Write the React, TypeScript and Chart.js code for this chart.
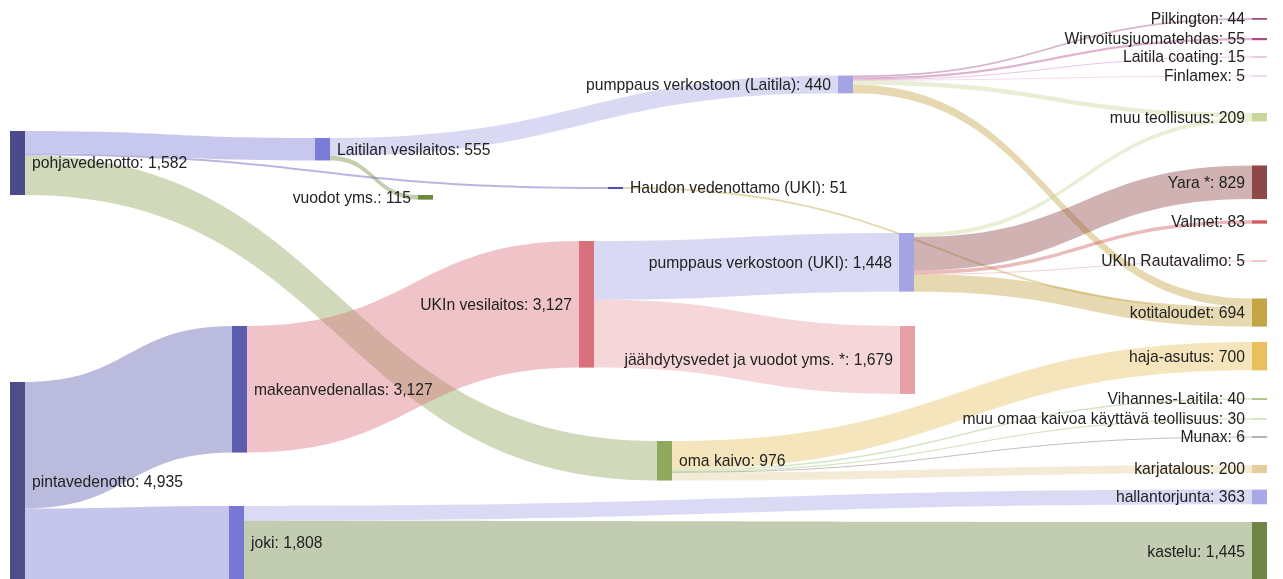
import React, { useEffect, useRef } from 'react';
import { Chart, registerables } from 'chart.js';

Chart.register(...registerables);

// ---------- DATA ----------
const nodeNames: string[] = [
  'pohjavedenotto',
  'pintavedenotto',
  'Laitilan vesilaitos',
  'Haudon vedenottamo (UKI)',
  'oma kaivo',
  'makeanvedenallas',
  'joki',
  'vuodot yms.',
  'pumppaus verkostoon (Laitila)',
  'UKIn vesilaitos',
  'pumppaus verkostoon (UKI)',
  'jäähdytysvedet ja vuodot yms. *',
  'Pilkington',
  'Wirvoitusjuomatehdas',
  'Laitila coating',
  'Finlamex',
  'muu teollisuus',
  'Yara *',
  'Valmet',
  'UKIn Rautavalimo',
  'kotitaloudet',
  'haja-asutus',
  'Vihannes-Laitila',
  'muu omaa kaivoa käyttävä teollisuus',
  'Munax',
  'karjatalous',
  'hallantorjunta',
  'kastelu',
];

const linkFrom: string[] = [
  'pohjavedenotto', 'pohjavedenotto', 'pohjavedenotto',
  'pintavedenotto', 'pintavedenotto',
  'Laitilan vesilaitos', 'Laitilan vesilaitos',
  'makeanvedenallas',
  'UKIn vesilaitos', 'UKIn vesilaitos',
  'pumppaus verkostoon (Laitila)', 'pumppaus verkostoon (Laitila)', 'pumppaus verkostoon (Laitila)',
  'pumppaus verkostoon (Laitila)', 'pumppaus verkostoon (Laitila)', 'pumppaus verkostoon (Laitila)',
  'Haudon vedenottamo (UKI)',
  'pumppaus verkostoon (UKI)', 'pumppaus verkostoon (UKI)', 'pumppaus verkostoon (UKI)',
  'pumppaus verkostoon (UKI)', 'pumppaus verkostoon (UKI)',
  'oma kaivo', 'oma kaivo', 'oma kaivo', 'oma kaivo', 'oma kaivo',
  'joki', 'joki',
];

const linkTo: string[] = [
  'Laitilan vesilaitos', 'Haudon vedenottamo (UKI)', 'oma kaivo',
  'makeanvedenallas', 'joki',
  'pumppaus verkostoon (Laitila)', 'vuodot yms.',
  'UKIn vesilaitos',
  'pumppaus verkostoon (UKI)', 'jäähdytysvedet ja vuodot yms. *',
  'Pilkington', 'Wirvoitusjuomatehdas', 'Laitila coating',
  'Finlamex', 'muu teollisuus', 'kotitaloudet',
  'kotitaloudet',
  'muu teollisuus', 'Yara *', 'Valmet',
  'UKIn Rautavalimo', 'kotitaloudet',
  'haja-asutus', 'Vihannes-Laitila', 'muu omaa kaivoa käyttävä teollisuus', 'Munax', 'karjatalous',
  'hallantorjunta', 'kastelu',
];

const linkValues: number[] = [
  555, 51, 976,
  3127, 1808,
  440, 115,
  3127,
  1448, 1679,
  44, 55, 15,
  5, 109, 212,
  51,
  100, 829, 83,
  5, 431,
  700, 40, 30, 6, 200,
  363, 1445,
];

// ---------- LAYOUT (positions in scale units) ----------
const nodeX: number[] = [
  10, 10, 315, 608, 657, 232, 229, 418, 838, 579, 899, 900,
  1252, 1252, 1252, 1252, 1252, 1252, 1252, 1252, 1252, 1252, 1252, 1252, 1252, 1252, 1252, 1252,
];
const nodeTop: number[] = [
  3235, 9434, 3408, 4618, 10892, 8051, 12497, 4816, 1865, 5952, 5755, 8051,
  445, 938, 1400, 1877, 2791, 4087, 5441, 6444, 7372, 8447, 9835, 10333, 10790, 11484, 12092, 12892,
];
const labelSide: string[] = [
  'r', 'r', 'r', 'r', 'r', 'r', 'r', 'l', 'l', 'l', 'l', 'l',
  'l', 'l', 'l', 'l', 'l', 'l', 'l', 'l', 'l', 'l', 'l', 'l', 'l', 'l', 'l', 'l',
];
const nodeColors: string[] = [
  '#4b4b8c', '#4d4d88', '#7b7bd8', '#5050b8', '#8fa85c', '#5c5cae', '#7878d4', '#6d8a3c',
  '#a4a4e4', '#d9707c', '#a4a4e4', '#e8a0a8',
  '#9c5288', '#b04a8a', '#e2a6d6', '#ebc0e4', '#c8d89c', '#8e4848', '#d05a5e', '#eca0a8',
  '#c4a444', '#e8c060', '#98c070', '#c0d89c', '#8c8078', '#e4cc9c', '#a8a8e6', '#6e8545',
];

const NODE_W = 15;
const LINK_ALPHA = 0.42;
const Y_MAX = 14300;
const X_MAX = 1283;
const LABEL_FONT = '15.7px "Liberation Sans", Arial, sans-serif';

function rgba(hex: string, a: number): string {
  const h = hex.replace('#', '');
  const r = parseInt(h.slice(0, 2), 16);
  const g = parseInt(h.slice(2, 4), 16);
  const b = parseInt(h.slice(4, 6), 16);
  return `rgba(${r},${g},${b},${a})`;
}

const sankeyPlugin = {
  id: 'sankeyDraw',
  afterDatasetsDraw(chart: any) {
    const ctx: CanvasRenderingContext2D = chart.ctx;
    const xs = chart.scales.x;
    const ys = chart.scales.y;
    const n = nodeNames.length;
    const idx = (name: string) => nodeNames.indexOf(name);
    const inSum = new Array(n).fill(0);
    const outSum = new Array(n).fill(0);
    linkValues.forEach((v, i) => {
      outSum[idx(linkFrom[i])] += v;
      inSum[idx(linkTo[i])] += v;
    });
    const nodeVal = (i: number) => Math.max(inSum[i], outSum[i]);
    const srcOff = new Array(n).fill(0);
    const tgtOff = new Array(n).fill(0);

    ctx.save();
    // links
    linkValues.forEach((v, i) => {
      const s = idx(linkFrom[i]);
      const t = idx(linkTo[i]);
      const sx = xs.getPixelForValue(nodeX[s] + NODE_W);
      const tx = xs.getPixelForValue(nodeX[t]);
      const sy0 = ys.getPixelForValue(nodeTop[s] + srcOff[s]);
      const sy1 = ys.getPixelForValue(nodeTop[s] + srcOff[s] + v);
      const ty0 = ys.getPixelForValue(nodeTop[t] + tgtOff[t]);
      const ty1 = ys.getPixelForValue(nodeTop[t] + tgtOff[t] + v);
      srcOff[s] += v;
      tgtOff[t] += v;
      const mx = (sx + tx) / 2;
      ctx.fillStyle = rgba(nodeColors[t], LINK_ALPHA);
      ctx.beginPath();
      ctx.moveTo(sx, sy0);
      ctx.bezierCurveTo(mx, sy0, mx, ty0, tx, ty0);
      ctx.lineTo(tx, ty1);
      ctx.bezierCurveTo(mx, ty1, mx, sy1, sx, sy1);
      ctx.closePath();
      ctx.fill();
      const th = sy1 - sy0;
      if (th < 1.5) {
        const sc = (sy0 + sy1) / 2;
        const tc = (ty0 + ty1) / 2;
        ctx.strokeStyle = rgba(nodeColors[t], 0.5);
        ctx.lineWidth = 1;
        ctx.beginPath();
        ctx.moveTo(sx, sc);
        ctx.bezierCurveTo(mx, sc, mx, tc, tx, tc);
        ctx.stroke();
      }
    });

    // nodes
    for (let i = 0; i < n; i++) {
      const x0 = xs.getPixelForValue(nodeX[i]);
      const x1 = xs.getPixelForValue(nodeX[i] + NODE_W);
      const y0 = ys.getPixelForValue(nodeTop[i]);
      const y1 = ys.getPixelForValue(nodeTop[i] + nodeVal(i));
      let h = y1 - y0;
      let top = y0;
      if (h < 1.2) {
        top = (y0 + y1) / 2 - 0.6;
        h = 1.2;
      }
      ctx.fillStyle = nodeColors[i];
      ctx.fillRect(x0, top, x1 - x0, h);
    }

    // labels
    ctx.font = LABEL_FONT;
    ctx.fillStyle = '#222222';
    ctx.textBaseline = 'middle';
    for (let i = 0; i < n; i++) {
      const x0 = xs.getPixelForValue(nodeX[i]);
      const x1 = xs.getPixelForValue(nodeX[i] + NODE_W);
      const yc = ys.getPixelForValue(nodeTop[i] + nodeVal(i) / 2);
      const text = `${nodeNames[i]}: ${nodeVal(i).toLocaleString('en-US')}`;
      if (labelSide[i] === 'r') {
        ctx.textAlign = 'left';
        ctx.fillText(text, x1 + 7, yc + 1);
      } else {
        ctx.textAlign = 'right';
        ctx.fillText(text, x0 - 7, yc + 1);
      }
    }
    ctx.restore();
  },
};

export default function App() {
  const canvasRef = useRef<HTMLCanvasElement | null>(null);

  useEffect(() => {
    document.body.style.margin = '0';
    const canvas = canvasRef.current;
    if (!canvas) return;
    const chart = new Chart(canvas, {
      type: 'scatter',
      data: { datasets: [{ data: [], pointRadius: 0 }] },
      options: {
        animation: false,
        responsive: false,
        maintainAspectRatio: false,
        layout: { padding: 0 },
        plugins: { legend: { display: false }, tooltip: { enabled: false } },
        scales: {
          x: { type: 'linear', min: 0, max: X_MAX, display: false },
          y: { type: 'linear', min: 0, max: Y_MAX, reverse: true, display: false },
        },
      },
      plugins: [sankeyPlugin],
    } as any);
    return () => chart.destroy();
  }, []);

  return (
    <div style={{ width: 1283, height: 579, background: '#fff' }}>
      <canvas ref={canvasRef} width={1283} height={579} style={{ display: 'block' }} />
    </div>
  );
}
